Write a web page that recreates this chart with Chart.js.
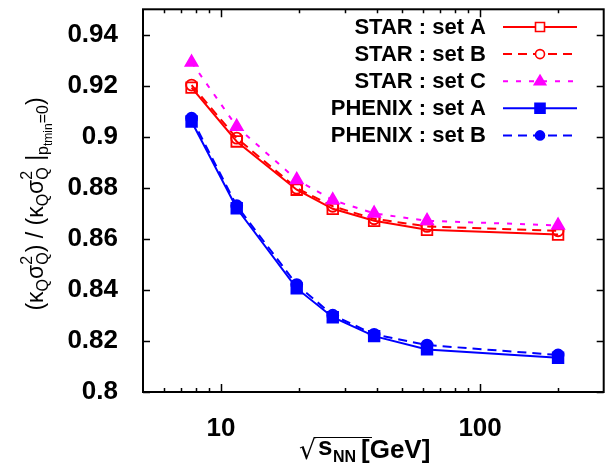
<!DOCTYPE html>
<html><head><meta charset="utf-8">
<script src="https://cdn.jsdelivr.net/npm/chart.js@4/dist/chart.umd.min.js"></script>
<style>html,body{margin:0;padding:0;background:#fff}#wrap{width:613px;height:473px;position:relative}</style>
</head><body><div id="wrap"><canvas id="c" width="613" height="473"></canvas></div>
<script>
// ---- data ----
const energies = [7.7, 11.5, 19.6, 27, 39, 62.4, 200];
const starA   = [0.9193, 0.8982, 0.8793, 0.8718, 0.8671, 0.8636, 0.8617];
const starB   = [0.9203, 0.8995, 0.8799, 0.8728, 0.8679, 0.8649, 0.8632];
const starC   = [0.9292, 0.9040, 0.8832, 0.8752, 0.8700, 0.8671, 0.8653];
const phenixA = [0.9060, 0.8720, 0.8406, 0.8293, 0.8219, 0.8167, 0.8134];
const phenixB = [0.9073, 0.8730, 0.8421, 0.8301, 0.8226, 0.8184, 0.8145];
const seriesLabels = ['STAR : set A', 'STAR : set B', 'STAR : set C', 'PHENIX : set A', 'PHENIX : set B'];
const yTicks = [0.8, 0.82, 0.84, 0.86, 0.88, 0.9, 0.92, 0.94];
const xMajorTicks = [10, 100];
const xMinorTicks = [6, 7, 8, 9, 20, 30, 40, 50, 60, 70, 80, 90, 200];

const RED = '#ff0000', MAG = '#ff00ff', BLUE = '#0000ff';
const styles = [
  {color: RED,  dash: [],     marker: 'rect',     fill: false, r: 7.5, lr: 4.5},
  {color: RED,  dash: [9, 6], marker: 'circle',   fill: false, r: 5.5, lr: 4.5},
  {color: MAG,  dash: [5, 8], marker: 'triangle', fill: true,  r: 7,   lr: 6},
  {color: BLUE, dash: [],     marker: 'rect',     fill: true,  r: 7.5, lr: 5},
  {color: BLUE, dash: [9, 6], marker: 'circle',   fill: true,  r: 5.5, lr: 4.5}
];
const seriesValues = [starA, starB, starC, phenixA, phenixB];

const datasets = seriesValues.map((vals, i) => ({
  label: seriesLabels[i],
  data: energies.map((e, k) => ({x: e, y: vals[k]})),
  borderColor: styles[i].color,
  backgroundColor: styles[i].fill ? styles[i].color : 'rgba(0,0,0,0)',
  borderWidth: 2,
  borderDash: styles[i].dash,
  pointStyle: styles[i].marker,
  pointRadius: styles[i].r,
  pointBorderWidth: 1.8,
  pointBorderColor: styles[i].color,
  pointBackgroundColor: styles[i].fill ? styles[i].color : 'rgba(0,0,0,0)',
  tension: 0,
  order: 4 - i
}));

const FONT = '"Liberation Sans", Arial, Helvetica, sans-serif';

function drawMarker(ctx, style, x, y, r) {
  ctx.save();
  ctx.setLineDash([]);
  ctx.lineWidth = 1.6;
  ctx.strokeStyle = style.color;
  ctx.fillStyle = style.color;
  ctx.beginPath();
  if (style.marker === 'rect') {
    ctx.rect(x - r, y - r, 2 * r, 2 * r);
  } else if (style.marker === 'circle') {
    ctx.arc(x, y, r, 0, Math.PI * 2);
  } else {
    ctx.moveTo(x, y - r);
    ctx.lineTo(x + r * 0.95, y + r * 0.6);
    ctx.lineTo(x - r * 0.95, y + r * 0.6);
    ctx.closePath();
  }
  if (style.fill) ctx.fill(); else { ctx.fillStyle = '#fff'; ctx.fill(); }
  ctx.stroke();
  ctx.restore();
}

function drawRich(ctx, segs, x, y, align) {
  const widths = segs.map(s => {
    ctx.font = (s.bold ? 'bold ' : '') + s.size + 'px ' + FONT;
    return ctx.measureText(s.t).width;
  });
  let total = 0, pend = 0;
  segs.forEach((s, i) => {
    if (s.noadv) { pend = widths[i]; return; }
    total += Math.max(pend, widths[i]); pend = 0;
  });
  let px = align === 'center' ? x - total / 2 : x;
  pend = 0;
  segs.forEach((s, i) => {
    ctx.font = (s.bold ? 'bold ' : '') + s.size + 'px ' + FONT;
    ctx.fillText(s.t, px, y + (s.dy || 0));
    if (s.noadv) { pend = widths[i]; return; }
    px += Math.max(pend, widths[i]);
    pend = 0;
  });
  return total;
}

const framePlugin = {
  id: 'frame',
  afterDatasetsDraw(chart) {
    const ctx = chart.ctx;
    const a = chart.chartArea;
    const xs = chart.scales.x, ys = chart.scales.y;
    ctx.save();
    ctx.setLineDash([]);
    ctx.strokeStyle = '#000';
    ctx.lineWidth = 1.5;
    ctx.beginPath();
    yTicks.forEach(v => {
      const py = Math.round(ys.getPixelForValue(v)) + 0.5;
      ctx.moveTo(a.left, py); ctx.lineTo(a.left + 7, py);
      ctx.moveTo(a.right, py); ctx.lineTo(a.right - 7, py);
    });
    xMajorTicks.forEach(v => {
      const px = Math.round(xs.getPixelForValue(v)) + 0.5;
      ctx.moveTo(px, a.bottom); ctx.lineTo(px, a.bottom - 8);
      ctx.moveTo(px, a.top); ctx.lineTo(px, a.top + 8);
    });
    xMinorTicks.forEach(v => {
      const px = Math.round(xs.getPixelForValue(v)) + 0.5;
      ctx.moveTo(px, a.bottom); ctx.lineTo(px, a.bottom - 4);
      ctx.moveTo(px, a.top); ctx.lineTo(px, a.top + 4);
    });
    ctx.stroke();
    ctx.lineWidth = 2;
    ctx.strokeRect(a.left, a.top, a.right - a.left, a.bottom - a.top);

    // legend
    ctx.textAlign = 'right';
    ctx.textBaseline = 'middle';
    ctx.font = 'bold 22px ' + FONT;
    seriesLabels.forEach((lab, i) => {
      const ly = 27 + i * 27.1;
      ctx.fillStyle = '#000';
      ctx.fillText(lab, 486, ly + 1);
      ctx.save();
      ctx.strokeStyle = styles[i].color;
      ctx.lineWidth = 2;
      ctx.setLineDash(styles[i].dash);
      ctx.beginPath();
      ctx.moveTo(503, ly); ctx.lineTo(577, ly);
      ctx.stroke();
      ctx.restore();
      drawMarker(ctx, styles[i], 540, ly, styles[i].lr);
    });

    // x title
    ctx.textAlign = 'left';
    ctx.textBaseline = 'alphabetic';
    ctx.fillStyle = '#000';
    ctx.font = '27px "DejaVu Sans", ' + FONT;
    ctx.fillText('\u221A', 299, 459);
    ctx.font = 'bold 26px ' + FONT;
    ctx.fillText('s', 318, 455);
    ctx.font = 'bold 16px ' + FONT;
    ctx.fillText('NN', 333, 462);
    ctx.font = 'bold 26px ' + FONT;
    ctx.fillText('[GeV]', 361, 458);
    ctx.lineWidth = 1;
    ctx.beginPath();
    ctx.moveTo(314, 437.5); ctx.lineTo(372, 437.5);
    ctx.stroke();

    // y title (rotated)
    ctx.save();
    ctx.translate(43, 204);
    ctx.rotate(-Math.PI / 2);
    const B = 23, S = 16, SS = 12;
    const segs = [
      {t: '(\u03BA', size: B},
      {t: 'Q', size: S, dy: 5},
      {t: '\u03C3', size: B},
      {t: 'Q', size: S, dy: 5, noadv: true},
      {t: '2', size: S, dy: -11},
      {t: ') / (\u03BA', size: B},
      {t: 'Q', size: S, dy: 5},
      {t: '\u03C3', size: B},
      {t: 'Q', size: S, dy: 5, noadv: true},
      {t: '2', size: S, dy: -11},
      {t: ' |', size: B},
      {t: 'p', size: S, dy: 5},
      {t: 'tmin', size: SS, dy: 9},
      {t: '=0', size: S, dy: 5},
      {t: ')', size: B}
    ];
    drawRich(ctx, segs, 0, 0, 'center');
    ctx.restore();
    ctx.restore();
  }
};

new Chart(document.getElementById('c'), {
  type: 'line',
  data: {datasets},
  options: {
    responsive: false,
    animation: false,
    devicePixelRatio: 1,
    layout: {padding: {top: 8, right: 5, left: 0, bottom: 0}},
    plugins: {legend: {display: false}, tooltip: {enabled: false}},
    scales: {
      x: {
        type: 'logarithmic',
        min: 5, max: 300,
        afterFit: s => { s.height = 81; s.paddingLeft = 0; s.paddingRight = 0; },
        afterBuildTicks: s => { s.ticks = xMajorTicks.map(v => ({value: v, major: true})); },
        grid: {display: false},
        border: {display: false},
        ticks: {
          color: '#000', font: {family: FONT, size: 26, weight: 'bold'},
          padding: 13, maxRotation: 0, autoSkip: false,
          callback: v => String(v)
        }
      },
      y: {
        min: 0.8, max: 0.95,
        afterFit: s => { s.width = 143; s.paddingTop = 0; s.paddingBottom = 0; },
        afterBuildTicks: s => { s.ticks = yTicks.map(v => ({value: v})); },
        grid: {display: false},
        border: {display: false},
        ticks: {
          color: '#000', font: {family: FONT, size: 26, weight: 'bold'},
          padding: 17,
          callback: v => String(parseFloat(Number(v).toFixed(2)))
        }
      }
    }
  },
  plugins: [framePlugin]
});
</script>
</body></html>
